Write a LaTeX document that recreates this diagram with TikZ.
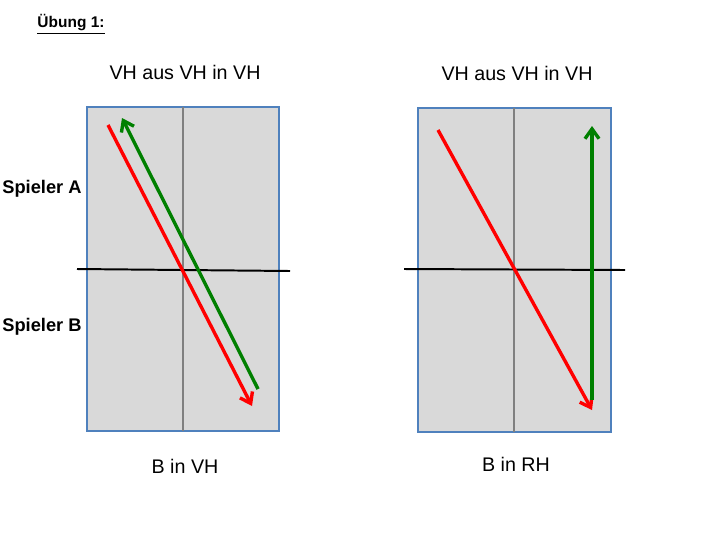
\documentclass[tikz,border=0pt]{standalone}
\usepackage{fontspec}
\setmainfont{Liberation Sans}
\usepackage{tikz}
\usetikzlibrary{arrows.meta, positioning}

\definecolor{feldgrau}{RGB}{217,217,217}
\definecolor{randblau}{RGB}{79,129,189}
\definecolor{mittegrau}{RGB}{128,128,128}
\definecolor{pfeilrot}{RGB}{255,0,0}
\definecolor{pfeilgruen}{RGB}{0,128,0}

\begin{document}
\begin{tikzpicture}[
  x=0.025cm, y=-0.025cm,
  feld/.style={draw=randblau, fill=feldgrau, line width=1.4pt},
  mitte/.style={draw=mittegrau, line width=1.8pt},
  netz/.style={draw=black, line width=1.4pt},
  pfeil/.style={line width=2.4pt, -{Straight Barb[length=7pt, width=10pt, line width=2.4pt]}},
  txt/.style={font=\fontsize{14}{16}\selectfont},
  spieler/.style={font=\fontsize{13}{15}\selectfont\bfseries},
]
  \useasboundingbox (0,0) rectangle (720,540);

  % Ueberschrift
  \node[font=\fontsize{11}{13}\selectfont\bfseries] (titel) at (71,24) {\underline{Übung 1:}};

  % linkes Feld
  \draw[feld] (87,107) rectangle (279,431);
  \coordinate (lmo) at (183,107);
  \coordinate (lmu) at (183,431);
  \draw[mitte] (lmo) -- (lmu);
  \coordinate (lnl) at (77,269);
  \coordinate (lnr) at (290,271);
  \draw[netz] (lnl) -- (lnr);

  \coordinate (lrot1) at (108,125);
  \coordinate (lrot2) at (252,406);
  \coordinate (lgr1) at (258,389);
  \coordinate (lgr2) at (122,118);
  \draw[pfeil, pfeilrot] (lrot1) -- (lrot2);
  \draw[pfeil, pfeilgruen] (lgr1) -- (lgr2);

  % rechtes Feld
  \draw[feld] (418,108) rectangle (611,432);
  \coordinate (rmo) at (514,108);
  \coordinate (rmu) at (514,432);
  \draw[mitte] (rmo) -- (rmu);
  \coordinate (rnl) at (404,269);
  \coordinate (rnr) at (625,270);
  \draw[netz] (rnl) -- (rnr);

  \coordinate (rrot1) at (438,130);
  \coordinate (rrot2) at (592,410);
  \coordinate (rgr1) at (592,400);
  \coordinate (rgr2) at (592,126);
  \draw[pfeil, pfeilrot] (rrot1) -- (rrot2);
  \draw[pfeil, pfeilgruen] (rgr1) -- (rgr2);

  % Beschriftungen
  \node[txt] (lkopf) at (185,72) {VH aus VH in VH};
  \node[txt] (rkopf) at (517,73) {VH aus VH in VH};
  \node[spieler] (spa) at (42,189) {Spieler A};
  \node[spieler] (spb) at (42,327) {Spieler B};
  \node[txt] (lfuss) at (185,466) {B in VH};
  \node[txt] (rfuss) at (516,464) {B in RH};
\end{tikzpicture}
\end{document}
